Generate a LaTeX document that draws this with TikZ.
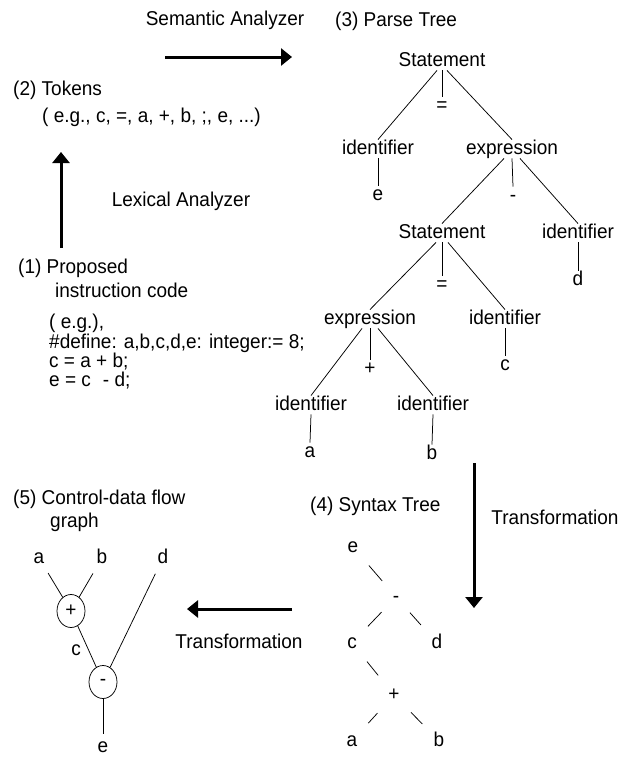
\documentclass[tikz,border=0pt]{standalone}
\usepackage{fontspec}
\setmainfont{Liberation Sans}[FakeStretch=0.95]
\usetikzlibrary{arrows.meta,shapes.geometric}
\begin{document}
\begin{tikzpicture}[x=1pt,y=-1pt,
  every node/.style={font=\fontsize{20pt}{18.6pt}\selectfont},
  lbl/.style={inner sep=0pt, text height=14.5pt, text depth=4pt},
  txt/.style={lbl, anchor=west},
  edge/.style={line width=0.75pt},
  flow/.style={line width=3pt, -{Triangle[length=11pt,width=17pt]}},
  op/.style={draw, ellipse, line width=0.75pt, inner sep=0pt,
             minimum width=28pt, minimum height=33pt},
  gap/.style={shorten <=16pt, shorten >=16pt}
]
\useasboundingbox (0,0) rectangle (634,758);

% ---- stage captions and transformation labels
\node[lbl] (sem) at (225,20) {Semantic Analyzer};
\node[txt] (ptree) at (335,21) {(3) Parse Tree};
\node[txt] (tok) at (13,90) {(2) Tokens};
\node[txt] (tokex) at (42,117) {( e.g., c, =, a, +, b, ;, e, ...)};
\node[lbl] (lex) at (181,201) {Lexical Analyzer};
\node[txt] (prop) at (18,268) {(1) Proposed};
\node[txt] (propb) at (55,292) {instruction code};
\node[anchor=north west, align=left, inner sep=0pt] (code) at (49,314)
  {( e.g.),\\ \#define: a,b,c,d,e: integer:= 8;\\ c = a + b;\\ e = c\hspace{0.6em}- d;};
\node[txt] (stree) at (310,506) {(4) Syntax Tree};
\node[lbl] (trA) at (555,519) {Transformation};
\node[lbl] (trB) at (239,643) {Transformation};
\node[txt] (cdfg) at (13,499) {(5) Control-data flow};
\node[txt] (cdfgb) at (50,522) {graph};

% ---- thick flow arrows between the stages
\coordinate (semS) at (165,57);  \coordinate (semE) at (292,57);
\coordinate (lexS) at (61,248);  \coordinate (lexE) at (61,152);
\coordinate (trAS) at (474,463); \coordinate (trAE) at (474,608);
\coordinate (trBS) at (292,609); \coordinate (trBE) at (187,609);
\draw[flow] (semS) -- (semE);
\draw[flow] (lexS) -- (lexE);
\draw[flow] (trAS) -- (trAE);
\draw[flow] (trBS) -- (trBE);

% ---- parse tree
\node[lbl] (st1) at (442,61) {Statement};
\node[lbl] (eq1) at (442,106) {=};
\node[lbl] (id1) at (378,149) {identifier};
\node[lbl] (ex1) at (512,149) {expression};
\node[lbl] (e1)  at (378,195) {e};
\node[lbl] (mi1) at (513,196) {-};
\node[lbl] (st2) at (442,233) {Statement};
\node[lbl] (id2) at (578,233) {identifier};
\node[lbl] (eq2) at (442,285) {=};
\node[lbl] (d1)  at (578,280) {d};
\node[lbl] (ex2) at (370,319) {expression};
\node[lbl] (id3) at (505,319) {identifier};
\node[lbl] (pl1) at (370,369) {+};
\node[lbl] (c1)  at (505,365) {c};
\node[lbl] (id4) at (311,405) {identifier};
\node[lbl] (id5) at (433,405) {identifier};
\node[lbl] (a1)  at (310,452) {a};
\node[lbl] (b1)  at (432,454) {b};

\draw[edge] ([xshift=-5pt]st1.south) -- (id1.north);
\draw[edge] (st1.south) -- (eq1.north);
\draw[edge] ([xshift=5pt]st1.south) -- (ex1.north);
\draw[edge] (id1.south) -- (e1.north);
\draw[edge] ([xshift=-8pt]ex1.south) -- (st2.north);
\draw[edge] (ex1.south) -- (mi1.north);
\draw[edge] ([xshift=8pt]ex1.south) -- (id2.north);
\draw[edge] ([xshift=-6pt]st2.south) -- (ex2.north);
\draw[edge] (st2.south) -- (eq2.north);
\draw[edge] ([xshift=6pt]st2.south) -- (id3.north);
\draw[edge] (id2.south) -- (d1.north);
\draw[edge] ([xshift=-8pt]ex2.south) -- (id4.north);
\draw[edge] (ex2.south) -- (pl1.north);
\draw[edge] ([xshift=8pt]ex2.south) -- (id5.north);
\draw[edge] (id3.south) -- (c1.north);
\draw[edge] (id4.south) -- (a1.north);
\draw[edge] (id5.south) -- (b1.north);

% ---- syntax tree
\node[lbl] (e2)  at (353,547) {e};
\node[lbl] (mi2) at (396,597) {-};
\node[lbl] (c2)  at (352,643) {c};
\node[lbl] (d2)  at (437,643) {d};
\node[lbl] (pl2) at (394,695) {+};
\node[lbl] (a2)  at (352,741) {a};
\node[lbl] (b2)  at (439,741) {b};

\draw[edge,gap] (e2) -- (mi2);
\draw[edge,gap] (mi2) -- (c2);
\draw[edge,gap] (mi2) -- (d2);
\draw[edge,gap] (c2) -- (pl2);
\draw[edge,gap] (pl2) -- (a2);
\draw[edge,gap] (pl2) -- (b2);

% ---- control-data flow graph
\node[lbl] (a3) at (39,558) {a};
\node[lbl] (b3) at (102,558) {b};
\node[lbl] (d3) at (163,558) {d};
\node[op]  (op1) at (71,611) {+};
\node[op]  (op2) at (103,682) {-};
\node[lbl] (c3) at (76,650) {c};
\node[lbl] (e3) at (103,747) {e};

\draw[edge,shorten <=7pt] (a3) -- (op1);
\draw[edge,shorten <=7pt] (b3) -- (op1);
\draw[edge] (op1) -- (op2);
\draw[edge,shorten <=7pt] (d3) -- (op2);
\draw[edge,shorten >=4pt] (op2) -- (e3);
\end{tikzpicture}
\end{document}
